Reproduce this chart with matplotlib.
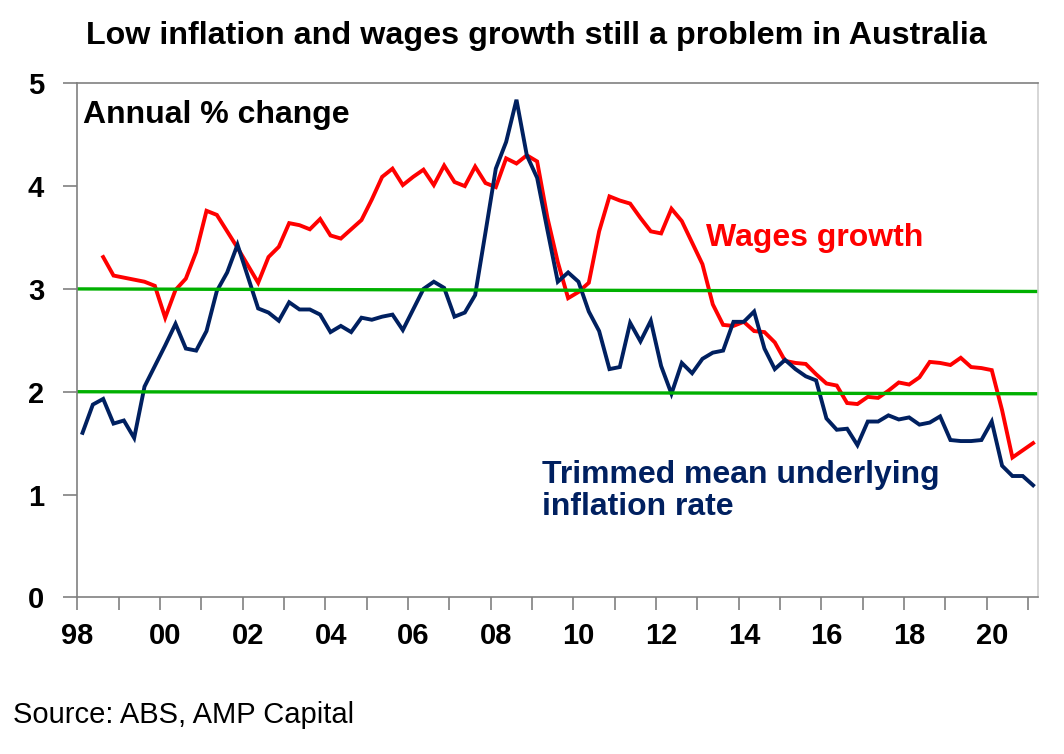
import numpy as np
import pandas as pd
import matplotlib
matplotlib.use('Agg')
import matplotlib.pyplot as plt
from matplotlib.transforms import ScaledTranslation

plt.rcParams['font.family'] = ['Liberation Sans', 'DejaVu Sans']

# -> Data, quarterly from Q1 1998 to Q1 2021 (annual % change)

quarters = pd.period_range('1998Q1', '2021Q1', freq='Q')

trimmed_mean = [
    1.60, 1.875, 1.93, 1.69, 1.72, 1.55, 2.05, 2.25, 2.45, 2.66,
    2.42, 2.40, 2.59, 2.98, 3.16, 3.43, 3.12, 2.81, 2.77, 2.69,
    2.87, 2.80, 2.80, 2.75, 2.58, 2.64, 2.58, 2.72, 2.70, 2.73,
    2.75, 2.60, 2.80, 3.00, 3.07, 3.01, 2.73, 2.77, 2.94, 3.55,
    4.17, 4.43, 4.84, 4.30, 4.08, 3.57, 3.07, 3.16, 3.07, 2.78,
    2.59, 2.22, 2.24, 2.67, 2.49, 2.69, 2.25, 1.98, 2.28, 2.18,
    2.32, 2.38, 2.40, 2.68, 2.68, 2.78, 2.42, 2.22, 2.31, 2.22,
    2.15, 2.11, 1.74, 1.63, 1.64, 1.48, 1.71, 1.71, 1.77, 1.73,
    1.75, 1.68, 1.70, 1.76, 1.53, 1.52, 1.52, 1.53, 1.71, 1.28,
    1.18, 1.18, 1.09,
]

wages = [
    np.nan, np.nan, 3.31, 3.13, 3.11, 3.09, 3.07, 3.03, 2.72, 2.99,
    3.10, 3.36, 3.76, 3.72, 3.56, 3.40, 3.23, 3.06, 3.31, 3.41,
    3.64, 3.62, 3.58, 3.68, 3.52, 3.49, 3.58, 3.67, 3.87, 4.09,
    4.17, 4.01, 4.09, 4.16, 4.01, 4.20, 4.04, 4.00, 4.19, 4.03,
    3.99, 4.27, 4.22, 4.30, 4.24, 3.69, 3.26, 2.91, 2.97, 3.06,
    3.56, 3.90, 3.86, 3.83, 3.69, 3.56, 3.54, 3.78, 3.66, 3.45,
    3.24, 2.85, 2.65, 2.64, 2.68, 2.59, 2.58, 2.48, 2.30, 2.28,
    2.27, 2.17, 2.08, 2.06, 1.89, 1.88, 1.95, 1.94, 2.01, 2.09,
    2.07, 2.14, 2.29, 2.28, 2.26, 2.33, 2.24, 2.23, 2.21, 1.82,
    1.36, 1.43, 1.50,
]

# RBA 2-3% target band (as drawn, very slightly sloping)
band_start = [3.0, 2.0]
band_end = [2.975, 1.98]

# quarter centres on a decimal-year axis
x = np.array([q.year + (q.quarter - 0.5) / 4 for q in quarters])
x_min, x_max = 1998.0, 2021.25

year_ticks = list(range(1998, 2022))
label_years = list(range(1998, 2021, 2))
tick_labels = ['%02d' % (y % 100) for y in label_years]

# -> Plot

fig = plt.figure(figsize=(10.64, 7.54), dpi=100)
ax = fig.add_axes([0.0727, 0.2078, 0.9031, 0.6817])

ax.plot(x, wages, color='#FF0000', lw=2.8, solid_joinstyle='miter')
ax.plot(x, trimmed_mean, color='#002060', lw=2.8, solid_joinstyle='miter')
for s, e in zip(band_start, band_end):
    ax.plot([x_min, x_max], [s, e], color='#00B000', lw=2.4)

ax.set_xlim(x_min, x_max)
ax.set_ylim(0, 5)

ax.set_yticks(range(0, 6))
ax.set_xticks(label_years)
ax.set_xticklabels(tick_labels)
ax.set_xticks(year_ticks, minor=True)

ax.tick_params(axis='both', which='both', direction='out', color='#808080', width=1.2)
ax.tick_params(axis='x', which='both', length=9, pad=9, labelsize=21)
ax.tick_params(axis='y', length=10, pad=14, labelsize=21)
for lab in ax.get_xticklabels() + ax.get_yticklabels():
    lab.set_fontweight('bold')
for lab in ax.get_xticklabels()[1:]:
    lab.set_transform(lab.get_transform() + ScaledTranslation(0.055, 0, fig.dpi_scale_trans))

for side in ['left', 'bottom', 'top']:
    ax.spines[side].set_color('#808080')
    ax.spines[side].set_linewidth(1.2)
ax.spines['right'].set_color('#D0D0D0')
ax.spines['right'].set_linewidth(1.2)

ax.text(0.006, 0.923, 'Annual % change', transform=ax.transAxes, fontsize=23,
        fontweight='bold', va='baseline', ha='left')
ax.text(0.654, 0.683, 'Wages growth', transform=ax.transAxes, fontsize=23,
        fontweight='bold', color='#FF0000', va='baseline', ha='left')
# baseline here is that of the last line
ax.text(0.4835, 0.160, 'Trimmed mean underlying\ninflation rate', transform=ax.transAxes,
        fontsize=23, fontweight='bold', color='#002060', va='baseline', ha='left',
        linespacing=1.07)

fig.text(0.504, 0.941, 'Low inflation and wages growth still a problem in Australia',
         fontsize=23.2, fontweight='bold', ha='center', va='baseline')
fig.text(0.0125, 0.041, 'Source: ABS, AMP Capital', fontsize=21, ha='left', va='baseline')

fig.savefig('out.png', dpi=100)
